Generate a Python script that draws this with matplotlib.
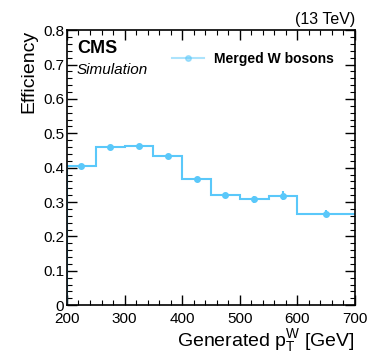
import matplotlib
matplotlib.use("Agg")
import matplotlib.pyplot as plt
import numpy as np
from matplotlib.ticker import MultipleLocator

# Efficiency vs generated W pT
bin_edges = [200, 250, 300, 350, 400, 450, 500, 550, 600, 700]
efficiency = [0.405, 0.461, 0.462, 0.433, 0.368, 0.319, 0.308, 0.318, 0.266]
eff_err = [0.003, 0.003, 0.003, 0.004, 0.004, 0.006, 0.010, 0.013, 0.010]

plt.rcParams['font.family'] = ['Liberation Sans', 'DejaVu Sans']
plt.rcParams['mathtext.fontset'] = 'custom'
plt.rcParams['mathtext.rm'] = 'Liberation Sans'
plt.rcParams['mathtext.it'] = 'Liberation Sans'

color = '#5ac8fa'

fig = plt.figure(figsize=(3.74, 3.59), dpi=100)
ax = fig.add_axes([0.179, 0.150, 0.770, 0.766])

edges = np.array(bin_edges)
centers = 0.5 * (edges[:-1] + edges[1:])

ax.stairs(efficiency, edges, color=color, linewidth=1.5, baseline=None)
ax.vlines(edges[0], 0, efficiency[0], color=color, linewidth=1.5)
eb = ax.errorbar(centers, efficiency, yerr=eff_err, fmt='o', color=color,
                 markersize=4, elinewidth=1.5, capsize=0)

ax.set_xlim(200, 700)
ax.set_ylim(0, 0.8)
ax.xaxis.set_major_locator(MultipleLocator(100))
ax.xaxis.set_minor_locator(MultipleLocator(20))
ax.yaxis.set_major_locator(MultipleLocator(0.1))
ax.yaxis.set_minor_locator(MultipleLocator(0.02))
ax.yaxis.set_major_formatter(plt.FuncFormatter(lambda v, p: '0' if abs(v) < 1e-9 else '%.1f' % v))
ax.tick_params(which='both', direction='in', top=True, right=True, labelsize=11)
ax.tick_params(which='major', length=7, width=1)
ax.tick_params(which='minor', length=3.5, width=0.8)
ax.tick_params(axis='y', pad=2)
ax.tick_params(axis='x', pad=5)
for s in ax.spines.values():
    s.set_linewidth(1.2)

ax.set_ylabel('Efficiency', fontsize=14, loc='top', labelpad=4)
ax.set_xlabel(r'Generated p$_{\mathrm{T}}^{\mathrm{W}}$ [GeV]', fontsize=14, loc='right', labelpad=1)

ax.text(0.035, 0.965, 'CMS', transform=ax.transAxes, fontsize=13,
        fontweight='bold', va='top')
ax.text(0.035, 0.88, 'Simulation', transform=ax.transAxes, fontsize=11,
        style='italic', va='top')
ax.text(1.0, 1.01, '(13 TeV)', transform=ax.transAxes, fontsize=11.5,
        ha='right', va='bottom')

ln, = ax.plot([], [], color=color, alpha=0.5, linewidth=1.5, marker='o',
              markersize=4, markerfacecolor=color, markeredgecolor=color)
ax.legend([ln], ['Merged W bosons'], loc='upper right', bbox_to_anchor=(0.97, 0.965),
          frameon=False, prop={'weight': 'bold', 'size': 10}, handlelength=2.3,
          handletextpad=0.7)

fig.savefig('out.png', dpi=100)
